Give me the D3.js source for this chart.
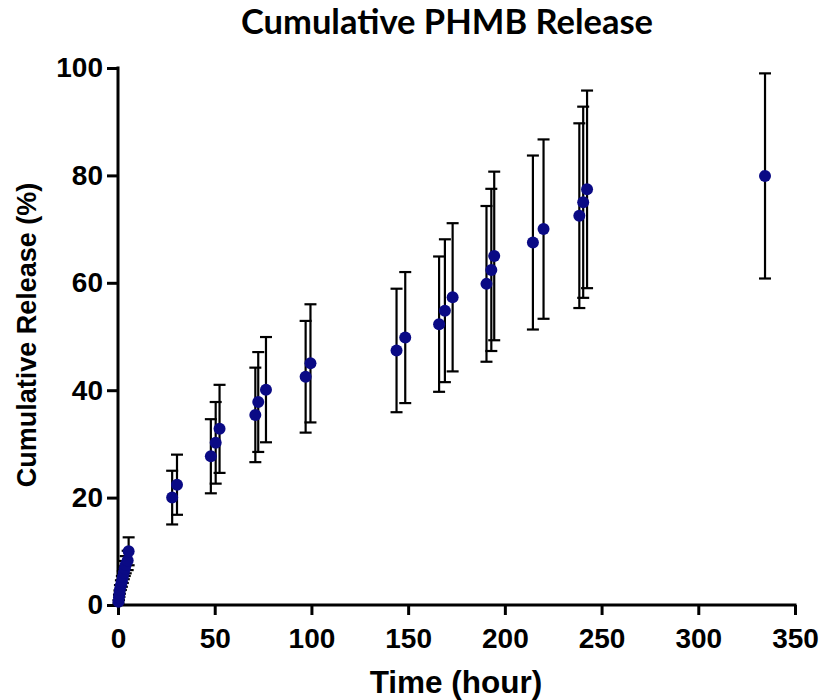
<!DOCTYPE html>
<html>
<head>
<meta charset="utf-8">
<script src="https://cdn.jsdelivr.net/npm/d3@7"></script>
<style>
  body { margin: 0; background: #fff; }
  svg { display: block; }
</style>
</head>
<body>
<div id="chart"></div>
<script>
// hours
const times = [0.25, 0.5, 0.75, 1, 1.5, 2, 2.5, 3, 3.5, 4, 5, 5.5,
  28, 30.5, 48, 50.5, 52.5, 71, 72.5, 76.5, 97, 99.5,
  144, 148.5, 166, 169, 173, 190.5, 193, 194.5, 214.5, 220,
  238.5, 240.5, 242.5, 334.5];
// cumulative release (%)
const release = [0.6, 1.4, 2.1, 2.9, 3.7, 4.4, 5.2, 6.0, 6.8, 7.5, 8.3, 10.0,
  20.0, 22.4, 27.7, 30.2, 32.8, 35.4, 37.8, 40.1, 42.5, 45.0,
  47.4, 49.8, 52.3, 54.8, 57.3, 59.8, 62.4, 65.0, 67.5, 70.0,
  72.5, 75.0, 77.4, 79.9];
// standard deviation
const sd = [0.3, 0.5, 0.6, 0.8, 0.9, 1.0, 1.1, 1.2, 1.4, 1.6, 1.8, 2.6,
  5.0, 5.6, 6.9, 7.6, 8.2, 8.8, 9.3, 9.8, 10.4, 11.0,
  11.5, 12.2, 12.6, 13.3, 13.8, 14.5, 15.1, 15.7, 16.2, 16.7,
  17.2, 17.8, 18.4, 19.1];

const xTicks = [0, 50, 100, 150, 200, 250, 300, 350];
const yTicks = [0, 20, 40, 60, 80, 100];

const data = times.map((t, i) => ({ t, v: release[i], sd: sd[i] }));

const W = 822, H = 700;
const svg = d3.select("#chart").append("svg")
  .attr("width", W)
  .attr("height", H);

const x = d3.scaleLinear().domain([0, 350]).range([118, 795]);
const y = d3.scaleLinear().domain([0, 100]).range([605, 68]);

const font = "\"Liberation Sans\", Arial, sans-serif";

// title
svg.append("text")
  .attr("x", 447)
  .attr("y", 34)
  .attr("text-anchor", "middle")
  .style("font-family", "Lato, 'Open Sans', sans-serif")
  .style("font-weight", "bold")
  .style("font-size", "34.5px")
  .text("Cumulative PHMB Release");

// axes
const xAxis = svg.append("g")
  .attr("transform", `translate(0,${y(0)})`)
  .call(d3.axisBottom(x).tickValues(xTicks).tickSize(10).tickPadding(8).tickSizeOuter(0));

const yAxis = svg.append("g")
  .attr("transform", `translate(${x(0)},0)`)
  .call(d3.axisLeft(y).tickValues(yTicks).tickSize(11).tickPadding(4).tickSizeOuter(0));

[xAxis, yAxis].forEach(g => {
  g.select(".domain").attr("stroke", "#000").attr("stroke-width", 3);
  g.selectAll(".tick line").attr("stroke", "#000").attr("stroke-width", 3);
  g.selectAll(".tick text")
    .attr("fill", "#000")
    .style("font-family", font)
    .style("font-weight", "bold")
    .style("font-size", "28px");
});
xAxis.selectAll(".tick text").attr("y", 43).attr("dy", 0);
// extend domains to cover line caps
xAxis.select(".domain").attr("d", `M${x(0) - 1.5},0H${x(350) + 1.5}`);
yAxis.select(".domain").attr("d", `M0,${y(100) - 1.5}V${y(0) + 1.5}`);

// axis labels
svg.append("text")
  .attr("x", 456)
  .attr("y", 693)
  .attr("text-anchor", "middle")
  .style("font-family", font)
  .style("font-weight", "bold")
  .style("font-size", "31.5px")
  .text("Time (hour)");

svg.append("text")
  .attr("transform", `translate(36,${335}) rotate(-90)`)
  .attr("text-anchor", "middle")
  .style("font-family", font)
  .style("font-weight", "bold")
  .style("font-size", "27px")
  .text("Cumulative Release (%)");

// error bars
const capW = 6;
const eb = svg.append("g").attr("stroke", "#000").attr("stroke-width", 2.2);
eb.selectAll("line.v").data(data).enter().append("line")
  .attr("class", "v")
  .attr("x1", d => x(d.t)).attr("x2", d => x(d.t))
  .attr("y1", d => y(d.v - d.sd)).attr("y2", d => y(d.v + d.sd));
eb.selectAll("line.top").data(data).enter().append("line")
  .attr("class", "top")
  .attr("x1", d => x(d.t) - capW).attr("x2", d => x(d.t) + capW)
  .attr("y1", d => y(d.v + d.sd)).attr("y2", d => y(d.v + d.sd));
eb.selectAll("line.bot").data(data).enter().append("line")
  .attr("class", "bot")
  .attr("x1", d => x(d.t) - capW).attr("x2", d => x(d.t) + capW)
  .attr("y1", d => y(d.v - d.sd)).attr("y2", d => y(d.v - d.sd));

// points
svg.append("g").selectAll("circle").data(data).enter().append("circle")
  .attr("cx", d => x(d.t))
  .attr("cy", d => y(d.v))
  .attr("r", 6)
  .attr("fill", "#0a0a85");
</script>
</body>
</html>
